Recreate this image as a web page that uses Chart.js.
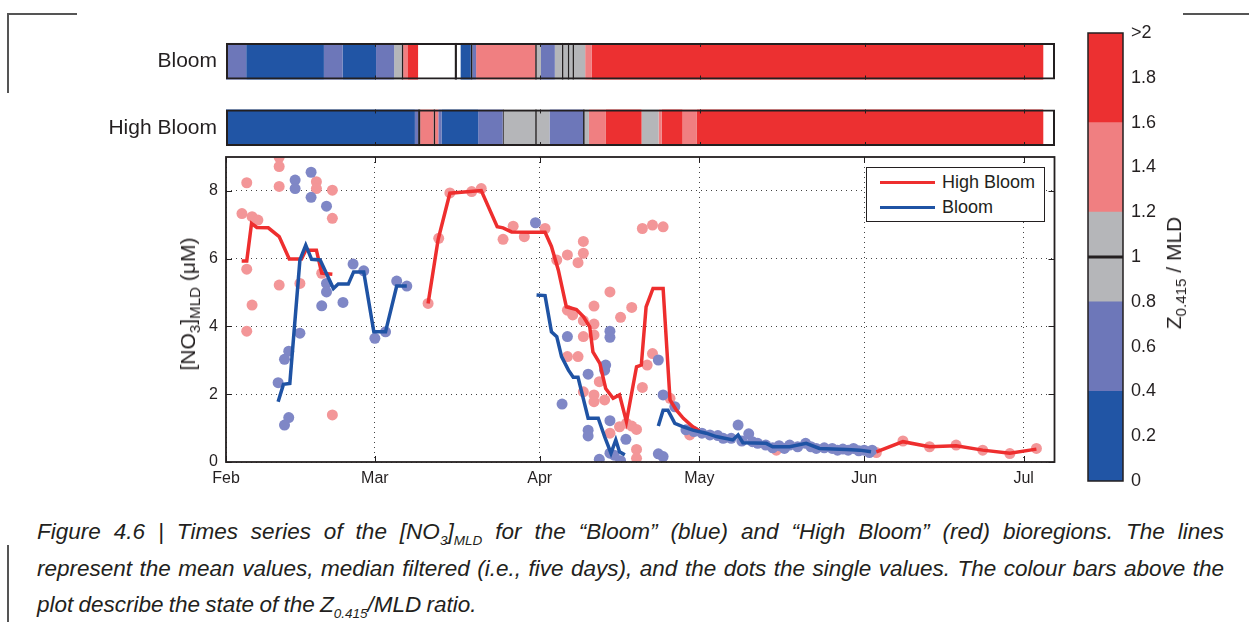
<!DOCTYPE html>
<html>
<head>
<meta charset="utf-8">
<script src="https://cdn.jsdelivr.net/npm/chart.js@4.4.1/dist/chart.umd.min.js"></script>
<style>
  body { margin: 0; background: #fff; }
  #wrap { position: relative; width: 1249px; height: 625px; overflow: hidden; font-family: "Liberation Sans", Arial, sans-serif; color: #231f20; }
  canvas { position: absolute; }
  .rule { position: absolute; background: #555; }
  .rot { position: absolute; white-space: nowrap; transform: translate(-50%, -50%) rotate(-90deg); }
  .rot sub { font-size: 72%; vertical-align: -0.35em; line-height: 0; }
  #legend { position: absolute; left: 866px; top: 167px; width: 177px; height: 53px; border: 1.5px solid #231f20; background: #fff; font-size: 18px; }
  #legend .item { position: absolute; left: 13px; height: 25px; line-height: 25px; }
  #legend .swatch { display: inline-block; width: 55px; height: 3.5px; vertical-align: middle; margin-right: 7px; position: relative; top: -1px; }
  #caption { position: absolute; left: 37px; top: 514px; width: 1187px; font-style: italic; font-size: 22.5px; line-height: 36.5px; word-spacing: -1px; }
  #caption div { height: 36.5px; }
  #caption .j { text-align: justify; text-align-last: justify; white-space: nowrap; }
  #caption sub { font-size: 60%; vertical-align: -0.45em; line-height: 0; }
</style>
</head>
<body>
<div id="wrap">
  <div class="rule" style="left:7px;top:13px;width:70px;height:1.5px"></div>
  <div class="rule" style="left:7px;top:13px;width:1.5px;height:80px"></div>
  <div class="rule" style="left:1183px;top:13px;width:66px;height:1.5px"></div>
  <div class="rule" style="left:7px;top:545px;width:1.5px;height:77px"></div>

  <canvas id="bars" width="1060" height="133" style="left:0;top:28px"></canvas>
  <canvas id="main" width="1060" height="342" style="left:0;top:150px"></canvas>
  <canvas id="cbar" width="140" height="475" style="left:1040px;top:20px"></canvas>

  <div class="rot" style="left:188px;top:304px;font-size:21px">[NO<sub>3</sub>]<sub>MLD</sub> (μM)</div>
  <div class="rot" style="left:1174px;top:273px;font-size:21px">Z<sub>0.415</sub> / MLD</div>

  <div id="legend">
    <div class="item" style="top:2px"><span class="swatch" style="background:#ee2e2e"></span>High Bloom</div>
    <div class="item" style="top:27px"><span class="swatch" style="background:#1f53a4"></span>Bloom</div>
  </div>

  <div id="caption">
    <div class="j">Figure 4.6 | Times series of the [NO<sub>3</sub>]<sub>MLD</sub> for the “Bloom” (blue) and “High Bloom” (red) bioregions. The lines</div>
    <div class="j">represent the mean values, median filtered (i.e., five days), and the dots the single values. The colour bars above the</div>
    <div>plot describe the state of the Z<sub>0.415</sub>/MLD ratio.</div>
  </div>
</div>

<script>
// time axis: days since 1 Feb
const XMAX = 155.8;
const monthDays = [0, 28, 59, 89, 120, 150];
const monthLabels = ['Feb', 'Mar', 'Apr', 'May', 'Jun', 'Jul'];
const yTicks = [0, 2, 4, 6, 8];

// mean lines (null = break)
const hbLineDay = [2.95, 3.9, 4.8, 5.8, 7.95, 10, 11.9, 14.2, 15, 17, 18, 20, 29,
  38, 39.9, 42.1, 48, 51, 52.1, 53.7, 57.1, 60, 61.2, 62.5, 64, 65.9, 67.2, 68.4, 69, 70.3, 71.4, 72.8, 74, 75.3,
  77.2, 78.1, 79, 80.3, 82.2, 83.5, 84.7, 86, 87.8, 89, 105,
  122.3, 127.3, 132.3, 137.3, 142.3, 147.4, 152.4];
const hbLineVal = [5.93, 5.93, 7.04, 6.92, 6.91, 6.65, 5.99, 5.99, 6.25, 6.25, 5.57, 5.54, null,
  4.68, 6.57, 7.93, 8.01, 6.94, 6.91, 6.79, 6.78, 6.78, 6.36, 5.66, 4.58, 4.5, 4.29, 3.99, 3.25, 2.91, 2.17, 1.88, 1.98, 1.19,
  2.81, 2.86, 4.58, 5.12, 5.12, 1.83, 1.53, 1.29, 1.04, 0.92, null,
  0.3, 0.6, 0.45, 0.48, 0.35, 0.26, 0.38];

const bLineDay = [9.8, 10.8, 12, 13.9, 15, 16.1, 17.7, 20.2, 21.1, 23, 24, 25.9, 27.8, 30, 32.1, 34, 45,
  58.4, 60, 61.2, 62.2, 63.1, 64.4, 65.3, 66.2, 68.1, 70, 71.2, 72.4, 73.3, 74, 75, 78,
  81.3, 82.2, 83.1, 84.4, 86, 87.8, 90.3, 92.2, 95.3, 96.3, 97.2, 101.6, 102.8, 106, 109.1, 111.6, 116.7, 119.2, 121.3];
const bLineVal = [1.78, 2.29, 2.32, 5.96, 6.4, 5.98, 5.96, 5.12, 5.25, 5.25, 5.61, 5.61, 3.84, 3.84, 5.19, 5.19, null,
  4.93, 4.91, 3.84, 3.7, 3.11, 2.71, 2.5, 2.5, 1.29, 1.29, 0.75, 0.26, 0.65, 0.3, 0.21, null,
  1.06, 1.53, 1.53, 1.14, 1.04, 0.94, 0.85, 0.75, 0.65, 0.8, 0.57, 0.55, 0.45, 0.45, 0.55, 0.4, 0.37, 0.35, 0.3];

// single values
const hbDotDay = [3.9, 3.0, 4.9, 6.0, 3.9, 4.9, 3.9, 10, 10, 10, 10, 13.9, 17, 17, 20, 20, 18, 20,
  38, 40, 42.1, 46.2, 48, 52.1, 54, 56.1, 60,
  62.2, 64.2, 66.2, 67.2, 67.2, 72.2, 69.2, 76.3, 74.2, 64.2, 65.2, 67.2, 69.2, 67.2, 69.2, 64.2, 66.2, 70.2, 67.2,
  69.2, 71.2, 69.2, 72.2, 74, 75.3, 76.3, 77.2, 77.2, 77.2, 78.3, 80.2, 82.2, 79.2, 80.2, 78.3, 83.5, 87.2, 103.5,
  122.3, 127.3, 132.3, 137.3, 142.3, 147.4, 152.4];
const hbDotVal = [8.24, 7.33, 7.24, 7.14, 5.69, 4.63, 3.86, 8.99, 8.72, 8.13, 5.22, 5.27, 8.27, 8.07, 8.02, 7.19, 5.57, 1.39,
  4.68, 6.6, 7.94, 7.98, 8.07, 6.57, 6.96, 6.65, 6.89,
  5.96, 6.11, 5.88, 6.51, 6.16, 5.02, 4.6, 4.56, 4.27, 4.48, 4.34, 4.17, 4.07, 3.7, 3.75, 3.11, 3.11, 2.37, 2.07,
  1.98, 1.83, 1.78, 0.85, 1.04, 1.14, 1.06, 0.96, 0.37, 0.11, 6.89, 6.99, 6.94, 2.86, 3.2, 2.2, 1.88, 0.8, 0.35,
  0.28, 0.62, 0.45, 0.5, 0.35, 0.25, 0.4];

const bDotDay = [13, 13, 16, 16, 18.9, 18.9, 18.9, 18, 22, 23.9, 25.9, 28, 30, 32.1, 34, 13.9, 11.8, 11, 9.8, 11.8, 11,
  58.2, 64.2, 63.2, 68.1, 72.2, 72.2, 71.4, 71.2, 68.1, 68.1, 72.2, 70.2, 72.2, 74.2, 75.2, 81.3, 82.2, 84.4, 81.3, 82.2, 73,
  86.5, 88, 89.5, 91, 92.5, 93.5, 95, 96.3, 97, 98.3, 99, 100, 101.5, 102.8, 104, 105, 106, 107.5, 109, 110, 111,
  112.5, 114, 115, 116, 117, 118, 119, 120, 121, 121.5];
const bDotVal = [8.32, 8.07, 8.55, 7.81, 7.55, 5.27, 5.02, 4.61, 4.71, 5.84, 5.64, 3.65, 3.84, 5.34, 5.19, 3.8, 3.27, 3.03, 2.34, 1.31, 1.09,
  7.06, 3.7, 1.71, 2.59, 3.86, 3.68, 2.86, 2.71, 0.94, 0.77, 1.22, 0.08, 0.26, 0.04, 0.67, 3.01, 1.98, 1.63, 0.24, 0.16, 0.2,
  0.95, 0.9, 0.85, 0.8, 0.78, 0.7, 0.7, 1.09, 0.62, 0.83, 0.6, 0.55, 0.5, 0.42, 0.48, 0.4, 0.5, 0.45, 0.55, 0.45, 0.4,
  0.42, 0.4, 0.35, 0.38, 0.35, 0.4, 0.33, 0.35, 0.28, 0.35];

// Z0.415/MLD state bars: segment edges (days) and ratio per segment (null = no data)
const barRows = ['Bloom', 'High Bloom'];
const bloomEdges = [0, 3.8, 18.4, 21.9, 28.2, 31.6, 33.0, 33.3, 34.2, 36.1, 43.0, 43.4, 44.1, 46.0, 46.3,
  47.0, 58.1, 58.4, 59.2, 61.8, 63.1, 63.4, 64.2, 64.5, 65.1, 65.4, 67.5, 68.7, 153.6];
const bloomRatio = [0.6, 0.2, 0.6, 0.2, 0.6, 1.1, 1.0, 1.4, 1.8, null, 1.0, null, 0.2, 1.0, 0.6,
  1.4, 1.0, 1.1, 0.6, 1.1, 1.0, 1.1, 1.0, 1.1, 1.0, 1.1, 1.4, 2.2];
const highEdges = [0, 35.5, 36.1, 36.5, 39.0, 39.3, 39.9, 40.5, 47.4, 52.0, 52.2, 58.1, 58.4, 60.8,
  67.1, 67.4, 68.2, 71.4, 78.1, 81.3, 81.9, 85.8, 88.5, 153.6];
const highRatio = [0.2, 0.6, 1.0, 1.4, 1.0, 1.4, 0.6, 0.2, 0.6, 1.0, 1.1, 1.0, 1.1,
  0.6, 1.0, 1.1, 1.4, 2.2, 1.1, 1.4, 2.2, 1.4, 2.2];

// colour bar
const binEdges = [0, 0.4, 0.8, 1.2, 1.6, 2.0];
const binColours = ['#2155a5', '#6d77b9', '#b5b6b9', '#f07f81', '#ec3031'];
const cbTickValues = [0, 0.2, 0.4, 0.6, 0.8, 1, 1.2, 1.4, 1.6, 1.8, 2];
const cbTickLabels = ['0', '0.2', '0.4', '0.6', '0.8', '1', '1.2', '1.4', '1.6', '1.8', '>2'];

Chart.defaults.font.family = '"Liberation Sans", Arial, sans-serif';
Chart.defaults.color = '#231f20';
Chart.defaults.animation = false;
Chart.defaults.plugins.legend.display = false;
Chart.defaults.plugins.tooltip.enabled = false;

function ratioColour(r) {
  if (r === 1) return '#231f20';
  for (let i = 0; i < binColours.length; i++) {
    if (r < binEdges[i + 1]) return binColours[i];
  }
  return binColours[binColours.length - 1];
}

function pts(days, vals) {
  return days.map((d, i) => ({ x: d, y: vals[i] }));
}

// fixed axis size, and no extra room for the end labels
function fixSize(w, h) {
  return s => {
    if (w !== null) s.width = w;
    if (h !== null) s.height = h;
    s.paddingTop = 0; s.paddingBottom = 0; s.paddingLeft = 0; s.paddingRight = 0;
  };
}

// box round the plot area, MATLAB style ticks pointing in
const frame = {
  id: 'frame',
  afterDraw(chart, args, opts) {
    const { ctx, chartArea: a, scales } = chart;
    ctx.save();
    ctx.strokeStyle = '#231f20';
    ctx.lineWidth = opts.width || 1.5;
    ctx.strokeRect(a.left, a.top, a.right - a.left, a.bottom - a.top);
    if (opts.ticks) {
      ctx.lineWidth = 1;
      ctx.beginPath();
      scales.x.ticks.forEach(t => {
        const px = Math.round(scales.x.getPixelForValue(t.value)) + 0.5;
        ctx.moveTo(px, a.bottom); ctx.lineTo(px, a.bottom - 6);
        ctx.moveTo(px, a.top); ctx.lineTo(px, a.top + 6);
      });
      scales.y.ticks.forEach(t => {
        const py = Math.round(scales.y.getPixelForValue(t.value)) + 0.5;
        ctx.moveTo(a.left, py); ctx.lineTo(a.left + 6, py);
        ctx.moveTo(a.right, py); ctx.lineTo(a.right - 6, py);
      });
      ctx.stroke();
    }
    ctx.restore();
  }
};

// month ticks on the edges of each state bar
const barTicks = {
  id: 'barTicks',
  afterDraw(chart) {
    const { ctx, scales } = chart;
    const meta = chart.getDatasetMeta(chart.data.datasets.length - 1);
    ctx.save();
    ctx.strokeStyle = '#231f20';
    ctx.lineWidth = 1;
    ctx.beginPath();
    meta.data.forEach(el => {
      const top = el.y - el.height / 2, bot = el.y + el.height / 2;
      monthDays.slice(1).forEach(m => {
        const px = Math.round(scales.x.getPixelForValue(m)) + 0.5;
        ctx.moveTo(px, top); ctx.lineTo(px, top + 4);
        ctx.moveTo(px, bot); ctx.lineTo(px, bot - 4);
      });
    });
    ctx.stroke();
    ctx.restore();
  }
};

// state bars
const barSets = [];
function addSegs(edges, ratios, row) {
  ratios.forEach((r, i) => {
    if (r === null) return;
    const d = [null, null];
    d[row] = [edges[i], edges[i + 1]];
    barSets.push({ data: d, backgroundColor: ratioColour(r), borderWidth: 0, grouped: false,
      barPercentage: 0.55, categoryPercentage: 1, order: 1 });
  });
}
addSegs(bloomEdges, bloomRatio, 0);
addSegs(highEdges, highRatio, 1);
barSets.push({ data: [[0, XMAX], [0, XMAX]], backgroundColor: 'rgba(0,0,0,0)', borderColor: '#231f20',
  borderWidth: 2, borderSkipped: false, grouped: false, barPercentage: 0.55, categoryPercentage: 1, order: 0 });

new Chart(document.getElementById('bars'), {
  type: 'bar',
  data: { labels: barRows, datasets: barSets },
  options: {
    responsive: false,
    indexAxis: 'y',
    layout: { padding: { left: 0, right: 5, top: 0, bottom: 0 } },
    scales: {
      x: { type: 'linear', min: 0, max: XMAX, display: false },
      y: {
        grid: { display: false, drawTicks: false }, border: { display: false },
        ticks: { font: { size: 21 }, padding: 9, color: '#231f20' },
        afterFit: fixSize(226, null)
      }
    }
  },
  plugins: [barTicks]
});

// main time series
new Chart(document.getElementById('main'), {
  type: 'line',
  data: {
    datasets: [
      { label: 'Bloom', data: pts(bLineDay, bLineVal), borderColor: '#1f53a4', borderWidth: 3.5,
        pointRadius: 0, spanGaps: false, order: 0 },
      { label: 'High Bloom', data: pts(hbLineDay, hbLineVal), borderColor: '#ee2e2e', borderWidth: 3.5,
        pointRadius: 0, spanGaps: false, order: 1 },
      { data: pts(bDotDay, bDotVal), showLine: false, pointRadius: 5.5, pointBorderWidth: 0,
        pointBackgroundColor: '#7f87c6', order: 2 },
      { data: pts(hbDotDay, hbDotVal), showLine: false, pointRadius: 5.5, pointBorderWidth: 0,
        pointBackgroundColor: '#f39698', order: 3 }
    ]
  },
  options: {
    responsive: false,
    layout: { padding: { left: 0, right: 5, top: 7, bottom: 0 } },
    scales: {
      x: {
        type: 'linear', min: 0, max: XMAX,
        afterBuildTicks: s => { s.ticks = monthDays.map(v => ({ value: v })); },
        ticks: { callback: v => monthLabels[monthDays.indexOf(v)], font: { size: 16 }, padding: 7,
          autoSkip: false, maxRotation: 0 },
        grid: { color: '#444', lineWidth: 1, drawTicks: false },
        border: { display: false, dash: [1, 4] },
        afterFit: fixSize(null, 30)
      },
      y: {
        min: 0, max: 9,
        afterBuildTicks: s => { s.ticks = yTicks.map(v => ({ value: v })); },
        ticks: { font: { size: 16 }, padding: 8 },
        grid: { color: '#444', lineWidth: 1, drawTicks: false },
        border: { display: false, dash: [1, 4] },
        afterFit: fixSize(226, null)
      }
    },
    plugins: { frame: { width: 1.8, ticks: true } }
  },
  plugins: [frame]
});

// colour bar
const cbSets = binColours.map((c, i) => ({ data: [[binEdges[i], binEdges[i + 1]]], backgroundColor: c,
  borderWidth: 0, grouped: false, barPercentage: 1, categoryPercentage: 1 }));
cbSets.unshift({ data: [[0.995, 1.005]], backgroundColor: '#231f20', borderWidth: 0, grouped: false,
  barPercentage: 1, categoryPercentage: 1 });

new Chart(document.getElementById('cbar'), {
  type: 'bar',
  data: { labels: [''], datasets: cbSets },
  options: {
    responsive: false,
    layout: { padding: { left: 48, right: 0, top: 13, bottom: 14 } },
    scales: {
      x: { display: false },
      y: {
        position: 'right', min: 0, max: 2,
        afterBuildTicks: s => { s.ticks = cbTickValues.map(v => ({ value: v })); },
        ticks: { callback: v => cbTickLabels[cbTickValues.indexOf(v)], font: { size: 18 }, padding: 8 },
        grid: { display: false, drawTicks: false }, border: { display: false },
        afterFit: fixSize(57, null)
      }
    },
    plugins: { frame: { width: 1.5 } }
  },
  plugins: [frame]
});
</script>
</body>
</html>
